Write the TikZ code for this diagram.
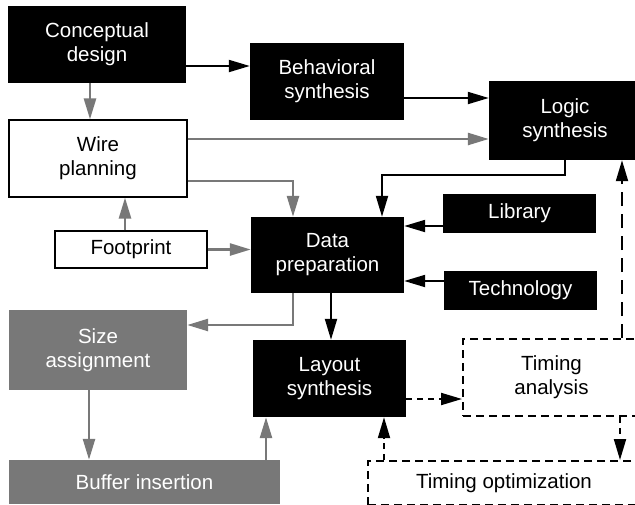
\documentclass[tikz,border=0pt]{standalone}
\usepackage{fontspec}
\setmainfont{Liberation Sans}
\usetikzlibrary{arrows.meta}
\definecolor{flowgray}{RGB}{120,120,120}
\begin{document}
\begin{tikzpicture}[x=1pt, y=-1pt,
	blk/.style={fill=black, text=white, align=center, inner sep=0pt, font=\fontsize{20.5}{24}\selectfont},
	wht/.style={draw=black, line width=1.2pt, fill=white, align=center, inner sep=0pt, font=\fontsize{20.5}{24}\selectfont},
	gry/.style={fill=flowgray, text=white, align=center, inner sep=0pt, font=\fontsize{20.5}{24}\selectfont},
	dsh/.style={draw=black, line width=2pt, dash pattern=on 8pt off 5pt, align=center, inner sep=0pt, font=\fontsize{20.5}{24}\selectfont},
	ka/.style={-{Triangle[length=21pt, width=12pt]}, line width=2pt, black},
	ga/.style={-{Triangle[length=21pt, width=12pt]}, line width=2.6pt, flowgray},
	da/.style={-{Triangle[length=21pt, width=12pt]}, line width=2pt, black, dash pattern=on 6pt off 5pt},
	la/.style={-{Triangle[length=21pt, width=12pt]}, line width=2pt, black, dash pattern=on 14pt off 8pt}]
				\useasboundingbox (0,0) rectangle (635,504);
				\clip (0,0) rectangle (635,504);
				\node[blk, minimum width=178pt, minimum height=77pt] (concept) at (97,44.5) {Conceptual\\design};
				\node[blk, minimum width=154pt, minimum height=77pt] (behav) at (327,81.5) {Behavioral\\synthesis};
				\node[blk, minimum width=152pt, minimum height=79pt] (logic) at (565,120.5) {Logic\\synthesis};
				\node[wht, minimum width=178pt, minimum height=77pt] (wire) at (98,158.5) {Wire\\planning};
				\node[wht, minimum width=152pt, minimum height=37pt] (footprint) at (131,249.5) {Footprint};
				\node[blk, minimum width=153pt, minimum height=76pt] (data) at (327.5,255) {Data\\preparation};
				\node[blk, minimum width=153pt, minimum height=39pt] (library) at (519.5,213.5) {Library};
				\node[blk, minimum width=153pt, minimum height=39pt] (tech) at (520.5,290.5) {Technology};
				\node[gry, minimum width=178pt, minimum height=80pt] (size) at (98,350) {Size\\assignment};
				\node[blk, minimum width=153pt, minimum height=77pt] (layout) at (329.5,378.5) {Layout\\synthesis};
				\node[dsh, minimum width=177pt, minimum height=77pt] (tanalysis) at (551.5,377.5) {Timing\\analysis};
				\node[gry, minimum width=271pt, minimum height=44pt] (buffer) at (144.5,482) {Buffer insertion};
				\node[dsh, minimum width=272pt, minimum height=44pt] (topt) at (504,483) {Timing optimization};
				\draw[ka] (concept.east |- 0,66) -- (behav.west |- 0,66);
				\draw[ga] (concept.south -| 90,0) -- (wire.north -| 90,0);
				\draw[ka] (behav.east |- 0,98) -- (logic.west |- 0,98);
				\draw[ga] (wire.east |- 0,139) -- (logic.west |- 0,139);
				\draw[ga] (wire.east |- 0,181) -| (data.north -| 293,0);
				\draw[ka] (logic.south) -- (logic.south |- 0,175) -| (data.north -| 382,0);
				\draw[ga] (footprint.north -| 125,0) -- (wire.south -| 125,0);
				\draw[ga] (footprint.east) -- (data.west |- footprint.east);
				\draw[ka] (library.west |- 0,226) -- (data.east |- 0,226);
				\draw[ka] (tech.west |- 0,281) -- (data.east |- 0,281);
				\draw[ga] (data.south -| 293,0) |- (size.east |- 0,325);
				\draw[ka] (data.south -| 331,0) -- (layout.north -| 331,0);
				\draw[ga] (size.south -| 89,0) -- (buffer.north -| 89,0);
				\draw[ga] (buffer.north -| 266,0) -- (layout.south -| 266,0);
				\draw[da] (layout.east |- 0,399) -- (tanalysis.west |- 0,399);
				\draw[la] (tanalysis.north -| 622,0) -- (logic.south -| 622,0);
				\draw[da] (tanalysis.south -| 620,0) -- (topt.north -| 620,0);
				\draw[da] (topt.north -| 384,0) -- (layout.south -| 384,0);
			\end{tikzpicture}
\end{document}
